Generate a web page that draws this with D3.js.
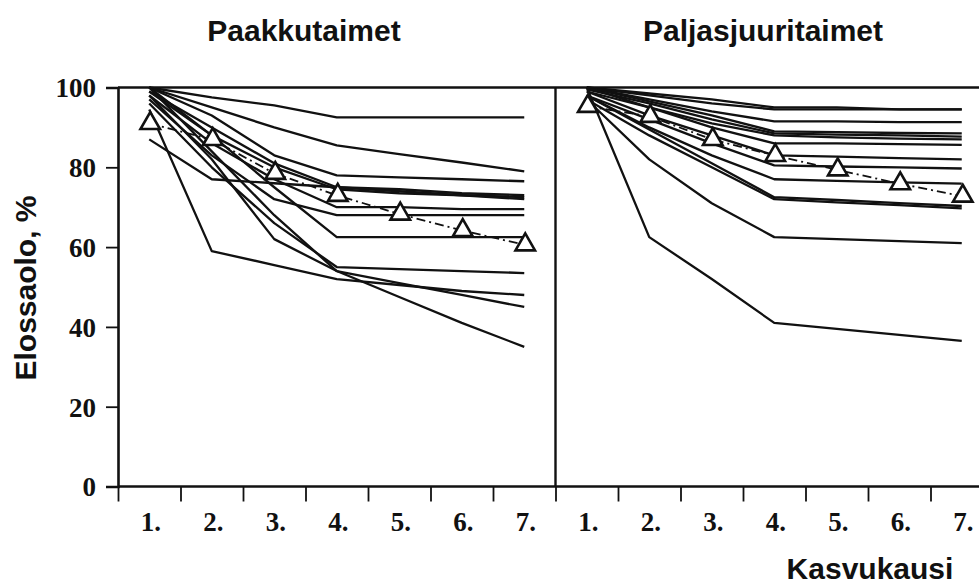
<!DOCTYPE html>
<html>
<head>
<meta charset="utf-8">
<script src="https://cdn.jsdelivr.net/npm/d3@7/dist/d3.min.js"></script>
<style>
  html, body { margin: 0; padding: 0; background: #fff; }
  svg { display: block; }
  .tick-label { font-family: "Liberation Serif", "Times New Roman", serif; font-weight: bold; font-size: 27px; fill: #111; }
  .title { font-family: "Liberation Sans", Arial, sans-serif; font-weight: bold; font-size: 30px; fill: #111; }
</style>
</head>
<body>
<svg id="chart" width="979" height="585"></svg>
<script>
// Growing seasons (kasvukausi) and their tick labels
const years = [1, 2, 3, 4, 5, 6, 7];
const yearLabels = ["1.", "2.", "3.", "4.", "5.", "6.", "7."];
const survivalTicks = [0, 20, 40, 60, 80, 100];

// Panel titles
const panelTitles = ["Paakkutaimet", "Paljasjuuritaimet"];

// Survival (%) of individual plantations, containerised seedlings
const paakkuLines = [
  [100, 97.5, 95.5, 92.5, 92.5, 92.5, 92.5],
  [100, 95, 90, 85.5, 83.3, 81.2, 79],
  [100, 93, 83, 78, 77.5, 77, 76.5],
  [99, 90, 81, 75, 74.5, 73.5, 73],
  [100, 88, 80, 74.5, 73.5, 73, 72.5],
  [87, 77, 76, 75, 74, 73, 72],
  [98, 86, 77, 70, 70, 69.5, 69.5],
  [97, 83, 72, 68, 68, 68, 68],
  [99, 88, 75, 62.5, 62.5, 62.5, 62.5],
  [96, 80, 66, 55, 54.5, 54, 53.5],
  [94.5, 59, 55.5, 52, 50.5, 49, 48],
  [98, 82, 62, 54, 51, 48, 45],
  [100, 84, 68, 54, 47.5, 41, 35]
];
// Mean survival, containerised seedlings
const paakkuMean = [91, 87, 78.5, 73, 68.3, 64.2, 60.6];

// Survival (%) of individual plantations, bare-root seedlings
const paljasLines = [
  [100, 98.5, 97, 95, 95, 94.5, 94.5],
  [100, 98, 96, 94.5, 94.5, 94.5, 94.5],
  [100, 97, 94, 91.5, 91.5, 91.3, 91.3],
  [100, 96.5, 93, 89, 88.8, 88.6, 88.5],
  [99.5, 96, 92, 88.5, 88.2, 88, 87.7],
  [99, 95, 91, 88, 87.5, 87.2, 87],
  [100, 95, 90, 86, 86, 85.8, 85.6],
  [99, 93, 88, 83, 82.7, 82.3, 82],
  [98, 92, 86, 80.5, 80.2, 80, 79.7],
  [98, 90, 83, 77, 76.6, 76.2, 75.9],
  [98, 89.5, 81, 72.5, 71.8, 71, 70.3],
  [97, 88, 80, 72, 71.2, 70.5, 69.7],
  [97, 82, 71, 62.5, 62, 61.5, 61],
  [100, 62.5, 52, 41, 39.5, 38, 36.5]
];
// Mean survival, bare-root seedlings
const paljasMean = [95.3, 92.8, 87, 83, 79.4, 75.9, 72.8];

const svg = d3.select("#chart");
const ink = "#111";

const y = d3.scaleLinear().domain([0, 100]).range([486.5, 87.5]);

const panels = [
  { title: panelTitles[0], titleX: 304, lines: paakkuLines, mean: paakkuMean,
    x: d3.scaleLinear().domain([0.5, 7.5]).range([118, 555.5]) },
  { title: panelTitles[1], titleX: 763, lines: paljasLines, mean: paljasMean,
    x: d3.scaleLinear().domain([0.5, 7.5]).range([555.5, 993]) }
];

const boundaries = d3.range(0.5, 8, 1);

panels.forEach((p, pi) => {
  const g = svg.append("g");

  // seedling-group title
  g.append("text").attr("class", "title")
    .attr("x", p.titleX).attr("y", 41)
    .attr("text-anchor", "middle").text(p.title);

  const line = d3.line()
    .x((d, i) => p.x(years[i]))
    .y(d => y(d));

  // individual plantations
  g.append("g").selectAll("path").data(p.lines).join("path")
    .attr("d", line)
    .attr("fill", "none").attr("stroke", ink)
    .attr("stroke-width", 2.3).attr("stroke-linejoin", "round");

  // mean curve, dash-dotted
  g.append("path").datum(p.mean)
    .attr("d", line)
    .attr("fill", "none").attr("stroke", ink)
    .attr("stroke-width", 1.8).attr("stroke-dasharray", "9,4,2,4");

  // mean markers: open triangles
  const tri = d3.symbol().type(d3.symbolTriangle).size(165);
  g.append("g").selectAll("path").data(p.mean).join("path")
    .attr("d", tri)
    .attr("transform", (d, i) => `translate(${p.x(years[i]) + 1},${y(d)})`)
    .attr("fill", "#fff").attr("stroke", ink).attr("stroke-width", 2.6);

  // tick marks at season boundaries
  const tickAxis = d3.axisBottom(p.x).tickValues(pi === 0 ? boundaries : boundaries.slice(1))
    .tickSize(15).tickFormat("");
  const ta = g.append("g").attr("transform", `translate(0,${y(0)})`).call(tickAxis);
  ta.select(".domain").remove();
  ta.selectAll("line").attr("stroke", ink).attr("stroke-width", 1.8);

  // season labels at band centres
  const labelAxis = d3.axisBottom(p.x).tickValues(years).tickSize(0).tickPadding(0)
    .tickFormat((d, i) => yearLabels[i]);
  const la = g.append("g").attr("transform", `translate(0,${y(0) + 44})`).call(labelAxis);
  la.select(".domain").remove();
  la.selectAll("text").attr("class", "tick-label").attr("dy", 0).attr("dx", 1);
});

// frame: top border, panel divider, bottom axis
svg.append("line").attr("x1", 118).attr("x2", 979).attr("y1", y(100)).attr("y2", y(100))
  .attr("stroke", ink).attr("stroke-width", 2.6);
svg.append("line").attr("x1", 118).attr("x2", 979).attr("y1", y(0)).attr("y2", y(0))
  .attr("stroke", ink).attr("stroke-width", 2.6);
svg.append("line").attr("x1", 555.5).attr("x2", 555.5).attr("y1", y(100)).attr("y2", y(0))
  .attr("stroke", ink).attr("stroke-width", 2.4);

// survival axis
const yAxis = d3.axisLeft(y).tickValues(survivalTicks).tickSize(12).tickPadding(10);
const ya = svg.append("g").attr("transform", "translate(118,0)").call(yAxis);
ya.select(".domain").attr("stroke", ink).attr("stroke-width", 2.6);
ya.selectAll(".tick line").attr("stroke", ink).attr("stroke-width", 1.8);
ya.selectAll(".tick text").attr("class", "tick-label").attr("dy", "0.35em");

// axis titles
svg.append("text").attr("class", "title")
  .attr("transform", "translate(36,288) rotate(-90)")
  .attr("text-anchor", "middle").text("Elossaolo, %");
svg.append("text").attr("class", "title")
  .attr("x", 870).attr("y", 579)
  .attr("text-anchor", "middle").text("Kasvukausi");
</script>
</body>
</html>
